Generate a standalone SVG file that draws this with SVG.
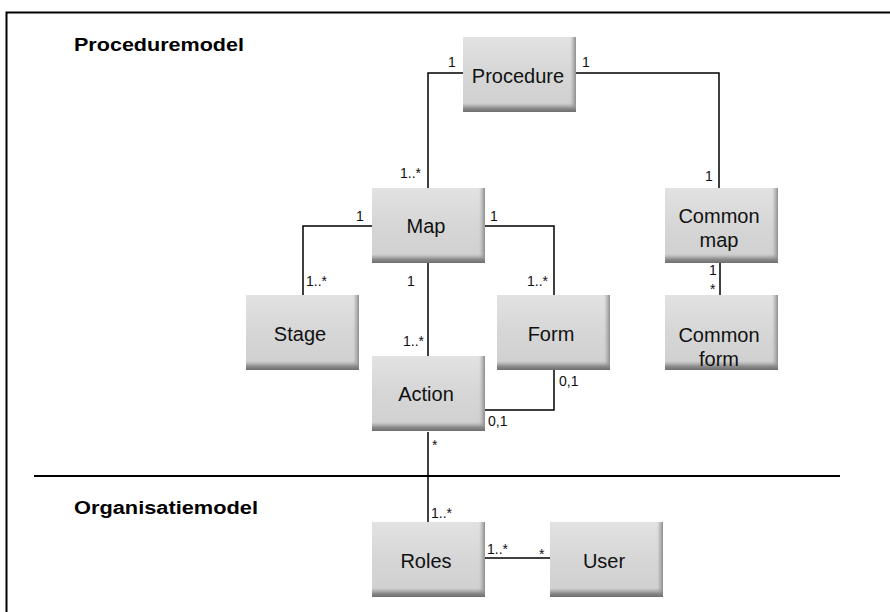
<svg xmlns="http://www.w3.org/2000/svg" width="890" height="612" viewBox="0 0 890 612">
<defs>
<linearGradient id="gbase" x1="0" y1="0" x2="0" y2="1">
<stop offset="0" stop-color="#e2e2e2"/>
<stop offset="0.5" stop-color="#d6d6d6"/>
<stop offset="1" stop-color="#cfcfcf"/>
</linearGradient>
<linearGradient id="gbot" x1="0" y1="0" x2="0" y2="1">
<stop offset="0" stop-color="#a0a0a0" stop-opacity="0"/>
<stop offset="0.6" stop-color="#8a8a8a"/>
<stop offset="1" stop-color="#6e6e6e"/>
</linearGradient>
<linearGradient id="gright" x1="0" y1="0" x2="1" y2="0">
<stop offset="0" stop-color="#a8a8a8" stop-opacity="0"/>
<stop offset="1" stop-color="#8c8c8c"/>
</linearGradient>
<g id="box">
<rect x="0" y="0" width="113" height="75" fill="url(#gbase)"/>
<rect x="107" y="0" width="6" height="75" fill="url(#gright)"/>
<rect x="0" y="66" width="113" height="9" fill="url(#gbot)"/>
</g>
</defs>
<style>
.frame{fill:none;stroke:#000;stroke-width:2;}
.sep{fill:none;stroke:#000;stroke-width:2;}
.ln{fill:none;stroke:#000;stroke-width:1.5;}
.nt{font-family:"Liberation Sans",Arial,Helvetica,sans-serif;font-size:20px;fill:#111;text-anchor:middle;}
.lb{font-family:"Liberation Sans",Arial,Helvetica,sans-serif;font-size:14px;fill:#111;}
.hd{font-family:"Liberation Sans",Arial,Helvetica,sans-serif;font-size:18px;font-weight:bold;fill:#000;}
</style>
<rect width="890" height="612" fill="#fff"/>
<path class="frame" d="M6.5,612 V12.5 H890"/>
<line class="sep" x1="34" y1="476" x2="840" y2="476"/>
<text class="hd" x="74" y="51" textLength="170" lengthAdjust="spacingAndGlyphs">Proceduremodel</text>
<text class="hd" x="74" y="514" textLength="184" lengthAdjust="spacingAndGlyphs">Organisatiemodel</text>
<g id="connectors">
<path class="ln" d="M463,73 H428 V188"/>
<path class="ln" d="M576,73 H719 V188"/>
<path class="ln" d="M372,226 H303 V295"/>
<path class="ln" d="M485,226 H554 V295"/>
<path class="ln" d="M428,263 V356"/>
<path class="ln" d="M554,370 V410 H485"/>
<path class="ln" d="M428,432 V522"/>
<path class="ln" d="M483,558 H550"/>
<path class="ln" d="M720,263 V295"/>
<text class="lb" x="448" y="67">1</text>
<text class="lb" x="582" y="67">1</text>
<text class="lb" x="400" y="178">1..*</text>
<text class="lb" x="356" y="221">1</text>
<text class="lb" x="490" y="221">1</text>
<text class="lb" x="407" y="286">1</text>
<text class="lb" x="306" y="286">1..*</text>
<text class="lb" x="527" y="286">1..*</text>
<text class="lb" x="403" y="346">1..*</text>
<text class="lb" x="559" y="386">0,1</text>
<text class="lb" x="488" y="426">0,1</text>
<text class="lb" x="432" y="450">*</text>
<text class="lb" x="705" y="181">1</text>
<text class="lb" x="709" y="275">1</text>
<text class="lb" x="710" y="294">*</text>
<text class="lb" x="431" y="518">1..*</text>
<text class="lb" x="487" y="554">1..*</text>
<text class="lb" x="539" y="559">*</text>
</g>
<g id="node-procedure"><use href="#box" x="463" y="37"/><text class="nt" x="518" y="83">Procedure</text></g>
<g id="node-map"><use href="#box" x="372" y="188"/><text class="nt" x="426" y="233">Map</text></g>
<g id="node-stage"><use href="#box" x="246" y="295"/><text class="nt" x="300" y="341">Stage</text></g>
<g id="node-form"><use href="#box" x="497" y="295"/><text class="nt" x="551" y="341">Form</text></g>
<g id="node-action"><use href="#box" x="372" y="356"/><text class="nt" x="426" y="401">Action</text></g>
<g id="node-common-map"><use href="#box" x="665" y="188"/><text class="nt" x="719" y="223">Common</text><text class="nt" x="719" y="247">map</text></g>
<g id="node-common-form"><use href="#box" x="665" y="295"/><text class="nt" x="719" y="342">Common</text><text class="nt" x="719" y="366">form</text></g>
<g id="node-roles"><use href="#box" x="372" y="522"/><text class="nt" x="426" y="568">Roles</text></g>
<g id="node-user"><use href="#box" x="550" y="522"/><text class="nt" x="604" y="568">User</text></g>
</svg>
